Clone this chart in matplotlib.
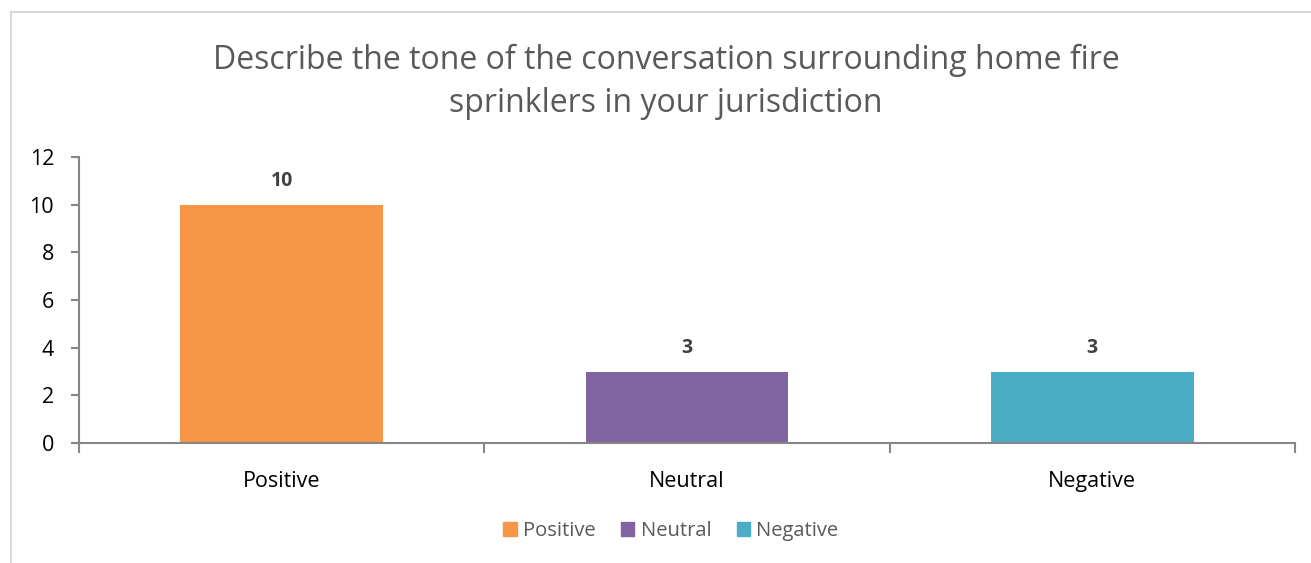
import matplotlib.pyplot as plt
from matplotlib.patches import Rectangle, Patch

categories = ["Positive", "Neutral", "Negative"]
counts = [10, 3, 3]
colors = ["#F79646", "#8064A2", "#4BACC6"]
yticks = [0, 2, 4, 6, 8, 10, 12]
title = "Describe the tone of the conversation surrounding home fire\nsprinklers in your jurisdiction"

plt.rcParams["font.family"] = ["Open Sans", "DejaVu Sans"]

W, H = 1311, 563
fig = plt.figure(figsize=(W / 100, H / 100), dpi=100)
fig.patches.append(Rectangle((11 / W, -0.1), 1.2, 1 - 12 / H + 0.1,
                             transform=fig.transFigure, fill=False,
                             edgecolor="#D9D9D9", linewidth=1.5))

ax = fig.add_axes([79 / W, 1 - 443 / H, (1295 - 79) / W, (443 - 157) / H])
x = list(range(len(categories)))
ax.bar(x, counts, width=0.5, color=colors, zorder=2)
for xi, v in zip(x, counts):
    ax.annotate(str(v), (xi, v), xytext=(0, 10), textcoords="offset points",
                ha="center", va="bottom", fontsize=14, fontweight="bold",
                color="#404040")

ax.set_xlim(-0.5, len(categories) - 0.5)
ax.set_ylim(0, 12)
ax.set_yticks(yticks)
ax.set_xticks(x)
ax.set_xticklabels(categories)
ax.set_xticks([i - 0.5 for i in range(len(categories) + 1)], minor=True)
ax.tick_params(axis="x", which="major", length=0, pad=20, labelsize=15.5)
ax.tick_params(axis="x", which="minor", length=7, width=1.5, color="#868686")
ax.tick_params(axis="y", length=6, width=1.5, color="#868686", labelsize=15.5, pad=12)
for s in ["top", "right"]:
    ax.spines[s].set_visible(False)
for s in ["left", "bottom"]:
    ax.spines[s].set_color("#868686")
    ax.spines[s].set_linewidth(1.5)

fig.text(666 / W, 1 - 82 / H, title, ha="center", va="center", fontsize=23,
         color="#595959", linespacing=1.4)

handles = [Patch(color=c, label=l) for c, l in zip(colors, categories)]
fig.legend(handles=handles, loc="center", bbox_to_anchor=(671 / W, 1 - 531 / H),
           ncol=3, frameon=False, fontsize=14.5, handlelength=0.65, handleheight=0.65,
           handletextpad=0.3, columnspacing=1.3, labelcolor="#595959")

fig.savefig("out.png", dpi=100)
